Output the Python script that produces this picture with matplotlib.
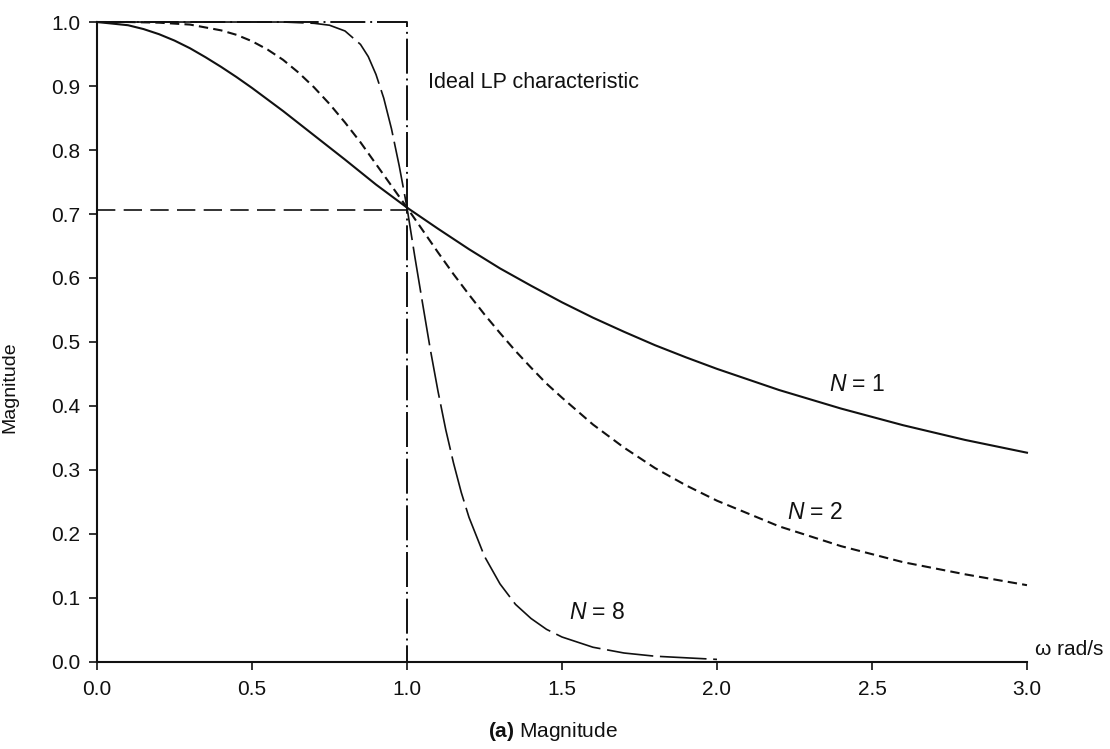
import numpy as np
import matplotlib
matplotlib.use("Agg")
import matplotlib.pyplot as plt

# ── fonts: Helvetica-like text, italic N via mathtext ───────────────────────
plt.rcParams["font.family"] = ["Liberation Sans", "DejaVu Sans"]
plt.rcParams["mathtext.fontset"] = "custom"
plt.rcParams["mathtext.rm"] = "Liberation Sans"
plt.rcParams["mathtext.it"] = "Liberation Sans:italic"
plt.rcParams["mathtext.bf"] = "Liberation Sans:bold"

_INK = "#111111"

# ── magnitude responses |H(jw)| ─────────────────────────────────────────────
w_n1 = [0.0, 0.1, 0.15, 0.2, 0.25, 0.3, 0.35, 0.4, 0.45, 0.5, 0.6, 0.7, 0.8,
        0.9, 1.0, 1.1, 1.2, 1.3, 1.4, 1.5, 1.6, 1.7, 1.8, 1.9, 2.0, 2.2,
        2.4, 2.6, 2.8, 3.0]
mag_n1 = [1.000, 0.995, 0.989, 0.981, 0.971, 0.959, 0.945, 0.930, 0.914,
          0.897, 0.861, 0.823, 0.785, 0.746, 0.710, 0.677, 0.645, 0.615,
          0.588, 0.562, 0.538, 0.516, 0.495, 0.476, 0.458, 0.425, 0.396,
          0.370, 0.347, 0.327]

w_n2 = [0.0, 0.1, 0.2, 0.3, 0.4, 0.45, 0.5, 0.55, 0.6, 0.65, 0.7, 0.75, 0.8,
        0.85, 0.9, 0.95, 1.0, 1.05, 1.1, 1.15, 1.2, 1.25, 1.3, 1.35, 1.4,
        1.45, 1.5, 1.6, 1.7, 1.8, 1.9, 2.0, 2.2, 2.4, 2.6, 2.8, 3.0]
mag_n2 = [1.000, 1.000, 0.999, 0.996, 0.987, 0.980, 0.970, 0.957, 0.941,
          0.921, 0.898, 0.872, 0.843, 0.812, 0.778, 0.744, 0.710, 0.675,
          0.640, 0.606, 0.574, 0.543, 0.514, 0.486, 0.460, 0.435, 0.413,
          0.371, 0.335, 0.303, 0.276, 0.252, 0.212, 0.181, 0.156, 0.137,
          0.120]

w_n8 = [0.0, 0.5, 0.6, 0.65, 0.7, 0.75, 0.8, 0.85, 0.875, 0.9, 0.925, 0.95,
        0.975, 1.0, 1.025, 1.05, 1.075, 1.1, 1.125, 1.15, 1.175, 1.2, 1.25,
        1.3, 1.35, 1.4, 1.45, 1.5, 1.6, 1.7, 1.8, 2.0]
mag_n8 = [1.000, 1.000, 1.000, 0.999, 0.998, 0.995, 0.986, 0.965, 0.946,
          0.918, 0.881, 0.833, 0.775, 0.710, 0.634, 0.561, 0.489, 0.423,
          0.363, 0.311, 0.265, 0.226, 0.165, 0.122, 0.090, 0.068, 0.051,
          0.039, 0.023, 0.014, 0.009, 0.004]

# ideal low-pass brick wall and the -3 dB level
w_ideal = [0.0, 1.0, 1.0]
mag_ideal = [1.0, 1.0, 0.0]
half_power = 0.707
cutoff = 1.0

x_ticks = [0.0, 0.5, 1.0, 1.5, 2.0, 2.5, 3.0]
y_ticks = [0.0, 0.1, 0.2, 0.3, 0.4, 0.5, 0.6, 0.7, 0.8, 0.9, 1.0]

fig = plt.figure(figsize=(11.10, 7.49), dpi=100, facecolor="white")
ax = fig.add_axes([0.0874, 0.1162, 0.8378, 0.8544])

lw = 1.2
ax.plot(w_ideal, mag_ideal, color=_INK, lw=lw + 0.2,
        linestyle=(0, (18, 2.5, 1, 2.5)), clip_on=False)
ax.plot([0.0, cutoff], [half_power, half_power], color=_INK, lw=lw,
        linestyle=(0, (11, 5)), clip_on=False)
ax.plot(w_n1, mag_n1, color=_INK, lw=lw + 0.3, clip_on=False)
ax.plot(w_n2, mag_n2, color=_INK, lw=lw + 0.3,
        linestyle=(0, (4.5, 2.5)), clip_on=False)
ax.plot(w_n8, mag_n8, color=_INK, lw=lw,
        linestyle=(0, (28, 4)), clip_on=False)

ax.set_xlim(0.0, 3.0)
ax.set_ylim(0.0, 1.0)
ax.set_xticks(x_ticks)
ax.set_yticks(y_ticks)
ax.set_xticklabels([f"{v:.1f}" for v in x_ticks])
ax.set_yticklabels([f"{v:.1f}" for v in y_ticks])
ax.tick_params(axis="both", direction="out", length=6, width=1.2,
               colors=_INK, labelsize=15)
ax.tick_params(axis="x", pad=7)
ax.tick_params(axis="y", pad=6)

for side in ("top", "right"):
    ax.spines[side].set_visible(False)
for side in ("left", "bottom"):
    ax.spines[side].set_linewidth(1.5)
    ax.spines[side].set_color(_INK)

ax.set_ylabel("Magnitude", fontsize=14, color=_INK)
ax.yaxis.set_label_coords(-0.085, 0.43)

ax.text(1.068, 0.906, "Ideal LP characteristic", fontsize=15.5,
        color=_INK, ha="left", va="center")
ax.text(2.452, 0.433, "$N$ = 1", fontsize=16.5, color=_INK,
        ha="center", va="center")
ax.text(2.316, 0.234, "$N$ = 2", fontsize=16.5, color=_INK,
        ha="center", va="center")
ax.text(1.613, 0.078, "$N$ = 8", fontsize=16.5, color=_INK,
        ha="center", va="center")
ax.text(3.026, 0.019, "ω rad/s", fontsize=15, color=_INK,
        ha="left", va="center", clip_on=False)

fig.text(0.498, 0.023, r"$\mathbf{(a)}$ Magnitude", fontsize=15,
         color=_INK, ha="center", va="center")

fig.savefig("out.png", dpi=100, facecolor="white")
